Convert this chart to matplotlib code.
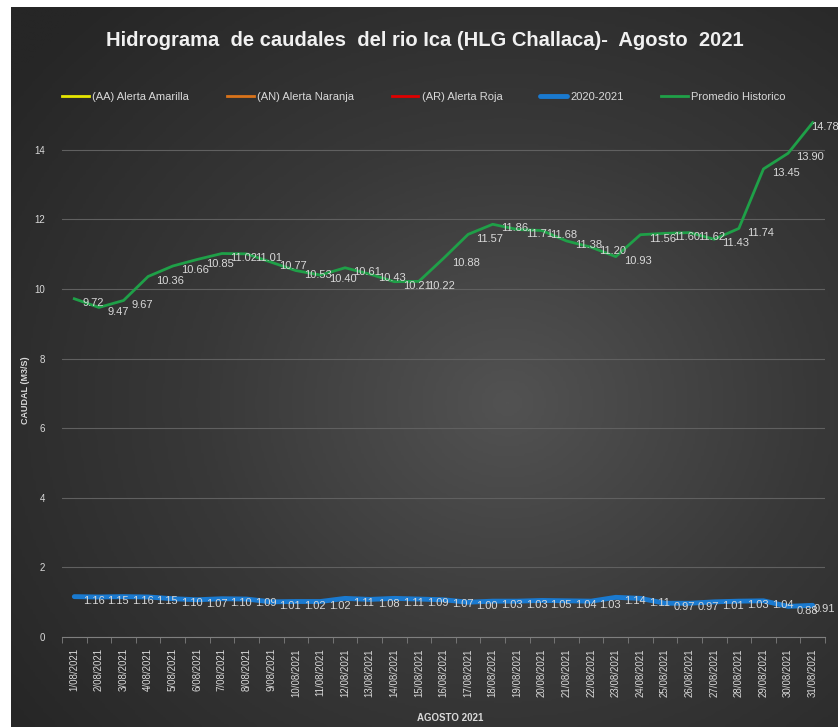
import numpy as np
import matplotlib
matplotlib.use("Agg")
import matplotlib.pyplot as plt

plt.rcParams['font.family'] = ['Liberation Sans', 'DejaVu Sans']

dias = list(range(1, 32))
fechas = [f"{d}/08/2021" for d in dias]
promedio = [9.72, 9.47, 9.67, 10.36, 10.66, 10.85, 11.02, 11.01, 10.77, 10.53,
            10.40, 10.61, 10.43, 10.21, 10.22, 10.88, 11.57, 11.86, 11.71, 11.68,
            11.38, 11.20, 10.93, 11.56, 11.60, 11.62, 11.43, 11.74, 13.45, 13.90, 14.78]
caudal_2021 = [1.16, 1.15, 1.16, 1.15, 1.10, 1.07, 1.10, 1.09, 1.01, 1.02,
               1.02, 1.11, 1.08, 1.11, 1.09, 1.07, 1.00, 1.03, 1.03, 1.05,
               1.04, 1.03, 1.14, 1.11, 0.97, 0.97, 1.01, 1.03, 1.04, 0.88, 0.91]
# alertas sin datos visibles en el grafico
alerta_amarilla = []
alerta_naranja = []
alerta_roja = []

txt = '#d9d9d9'
fig = plt.figure(figsize=(8.38, 7.27), dpi=100, facecolor='white')

# fondo degradado tipo Excel
bg = fig.add_axes([11/838, 0, 1 - 11/838, 1 - 7/727])
yy, xx = np.mgrid[0:1:300j, 0:1:300j]
r = np.sqrt((xx - 0.6)**2 + (yy - 0.55)**2)
bg.imshow(np.clip(r / 0.75, 0, 1), cmap=matplotlib.colors.LinearSegmentedColormap.from_list(
    'g', ['#525252', '#383838', '#262626']), aspect='auto', extent=[0, 1, 0, 1])
bg.set_axis_off()

ax = fig.add_axes([62/838, 1 - 637/727, (825 - 62)/838, (637 - 115)/727])
ax.patch.set_alpha(0)

ax.plot(alerta_amarilla, alerta_amarilla, color='#e6e600', lw=2, label='(AA) Alerta Amarilla')
ax.plot(alerta_naranja, alerta_naranja, color='#d9731a', lw=2, label='(AN) Alerta Naranja')
ax.plot(alerta_roja, alerta_roja, color='#e00000', lw=2, label='(AR) Alerta Roja')
ax.plot(dias, caudal_2021, color='#1a7ad0', lw=3.5, label='2020-2021', solid_capstyle='round')
ax.plot(dias, promedio, color='#1fa048', lw=2, label='Promedio Historico')

ultimo = len(dias) - 1
for i, (d, v) in enumerate(zip(dias, promedio)):
    dx = 6 if i < ultimo else -1
    ax.annotate(f"{v:.2f}", (d, v), xytext=(dx, -3), textcoords='offset points',
                color=txt, fontsize=8, va='center', ha='left')
for i, (d, v) in enumerate(zip(dias, caudal_2021)):
    dx = 6 if i < ultimo else 1
    ax.annotate(f"{v:.2f}", (d, v), xytext=(dx, -3), textcoords='offset points',
                color=txt, fontsize=8, va='center', ha='left', annotation_clip=False)

ax.set_xlim(0.5, 31.5)
ax.set_ylim(0, 15)
ax.set_yticks(range(0, 16, 2))
ax.set_xticks(dias)
ax.set_xticklabels(fechas, rotation=90, fontsize=7, color=txt)
ax.set_xticks(np.arange(0.5, 32, 1), minor=True)
ax.tick_params(axis='x', which='major', length=0, pad=8)
ax.tick_params(axis='x', which='minor', length=4, color='#7f7f7f')
ax.tick_params(axis='y', length=0, labelsize=7, labelcolor=txt, pad=12)
ax.grid(axis='y', color='#606060', lw=0.8)
for s in ['top', 'right', 'left']:
    ax.spines[s].set_visible(False)
ax.spines['bottom'].set_color('#7f7f7f')

ax.set_ylabel('CAUDAL (M3/S)', fontsize=6.5, color=txt, fontweight='bold')
ax.yaxis.set_label_coords(-32/763, 0.473)
fig.text(450/838, 1 - 718/727, 'AGOSTO 2021', fontsize=7, color=txt, fontweight='bold',
         ha='center', va='center')

fig.text(425/838, 1 - 40/727, 'Hidrograma  de caudales  del rio Ica (HLG Challaca)-  Agosto  2021',
         fontsize=14.5, color='#f0f0f0', fontweight='bold', ha='center', va='center')

fig.legend(loc='center', bbox_to_anchor=(424/838, 1 - 97/727), ncol=5, frameon=False,
           fontsize=8, labelcolor=txt, handlelength=2.4, columnspacing=3.4, handletextpad=0.3)

fig.savefig('out.png', dpi=100, facecolor=fig.get_facecolor())
